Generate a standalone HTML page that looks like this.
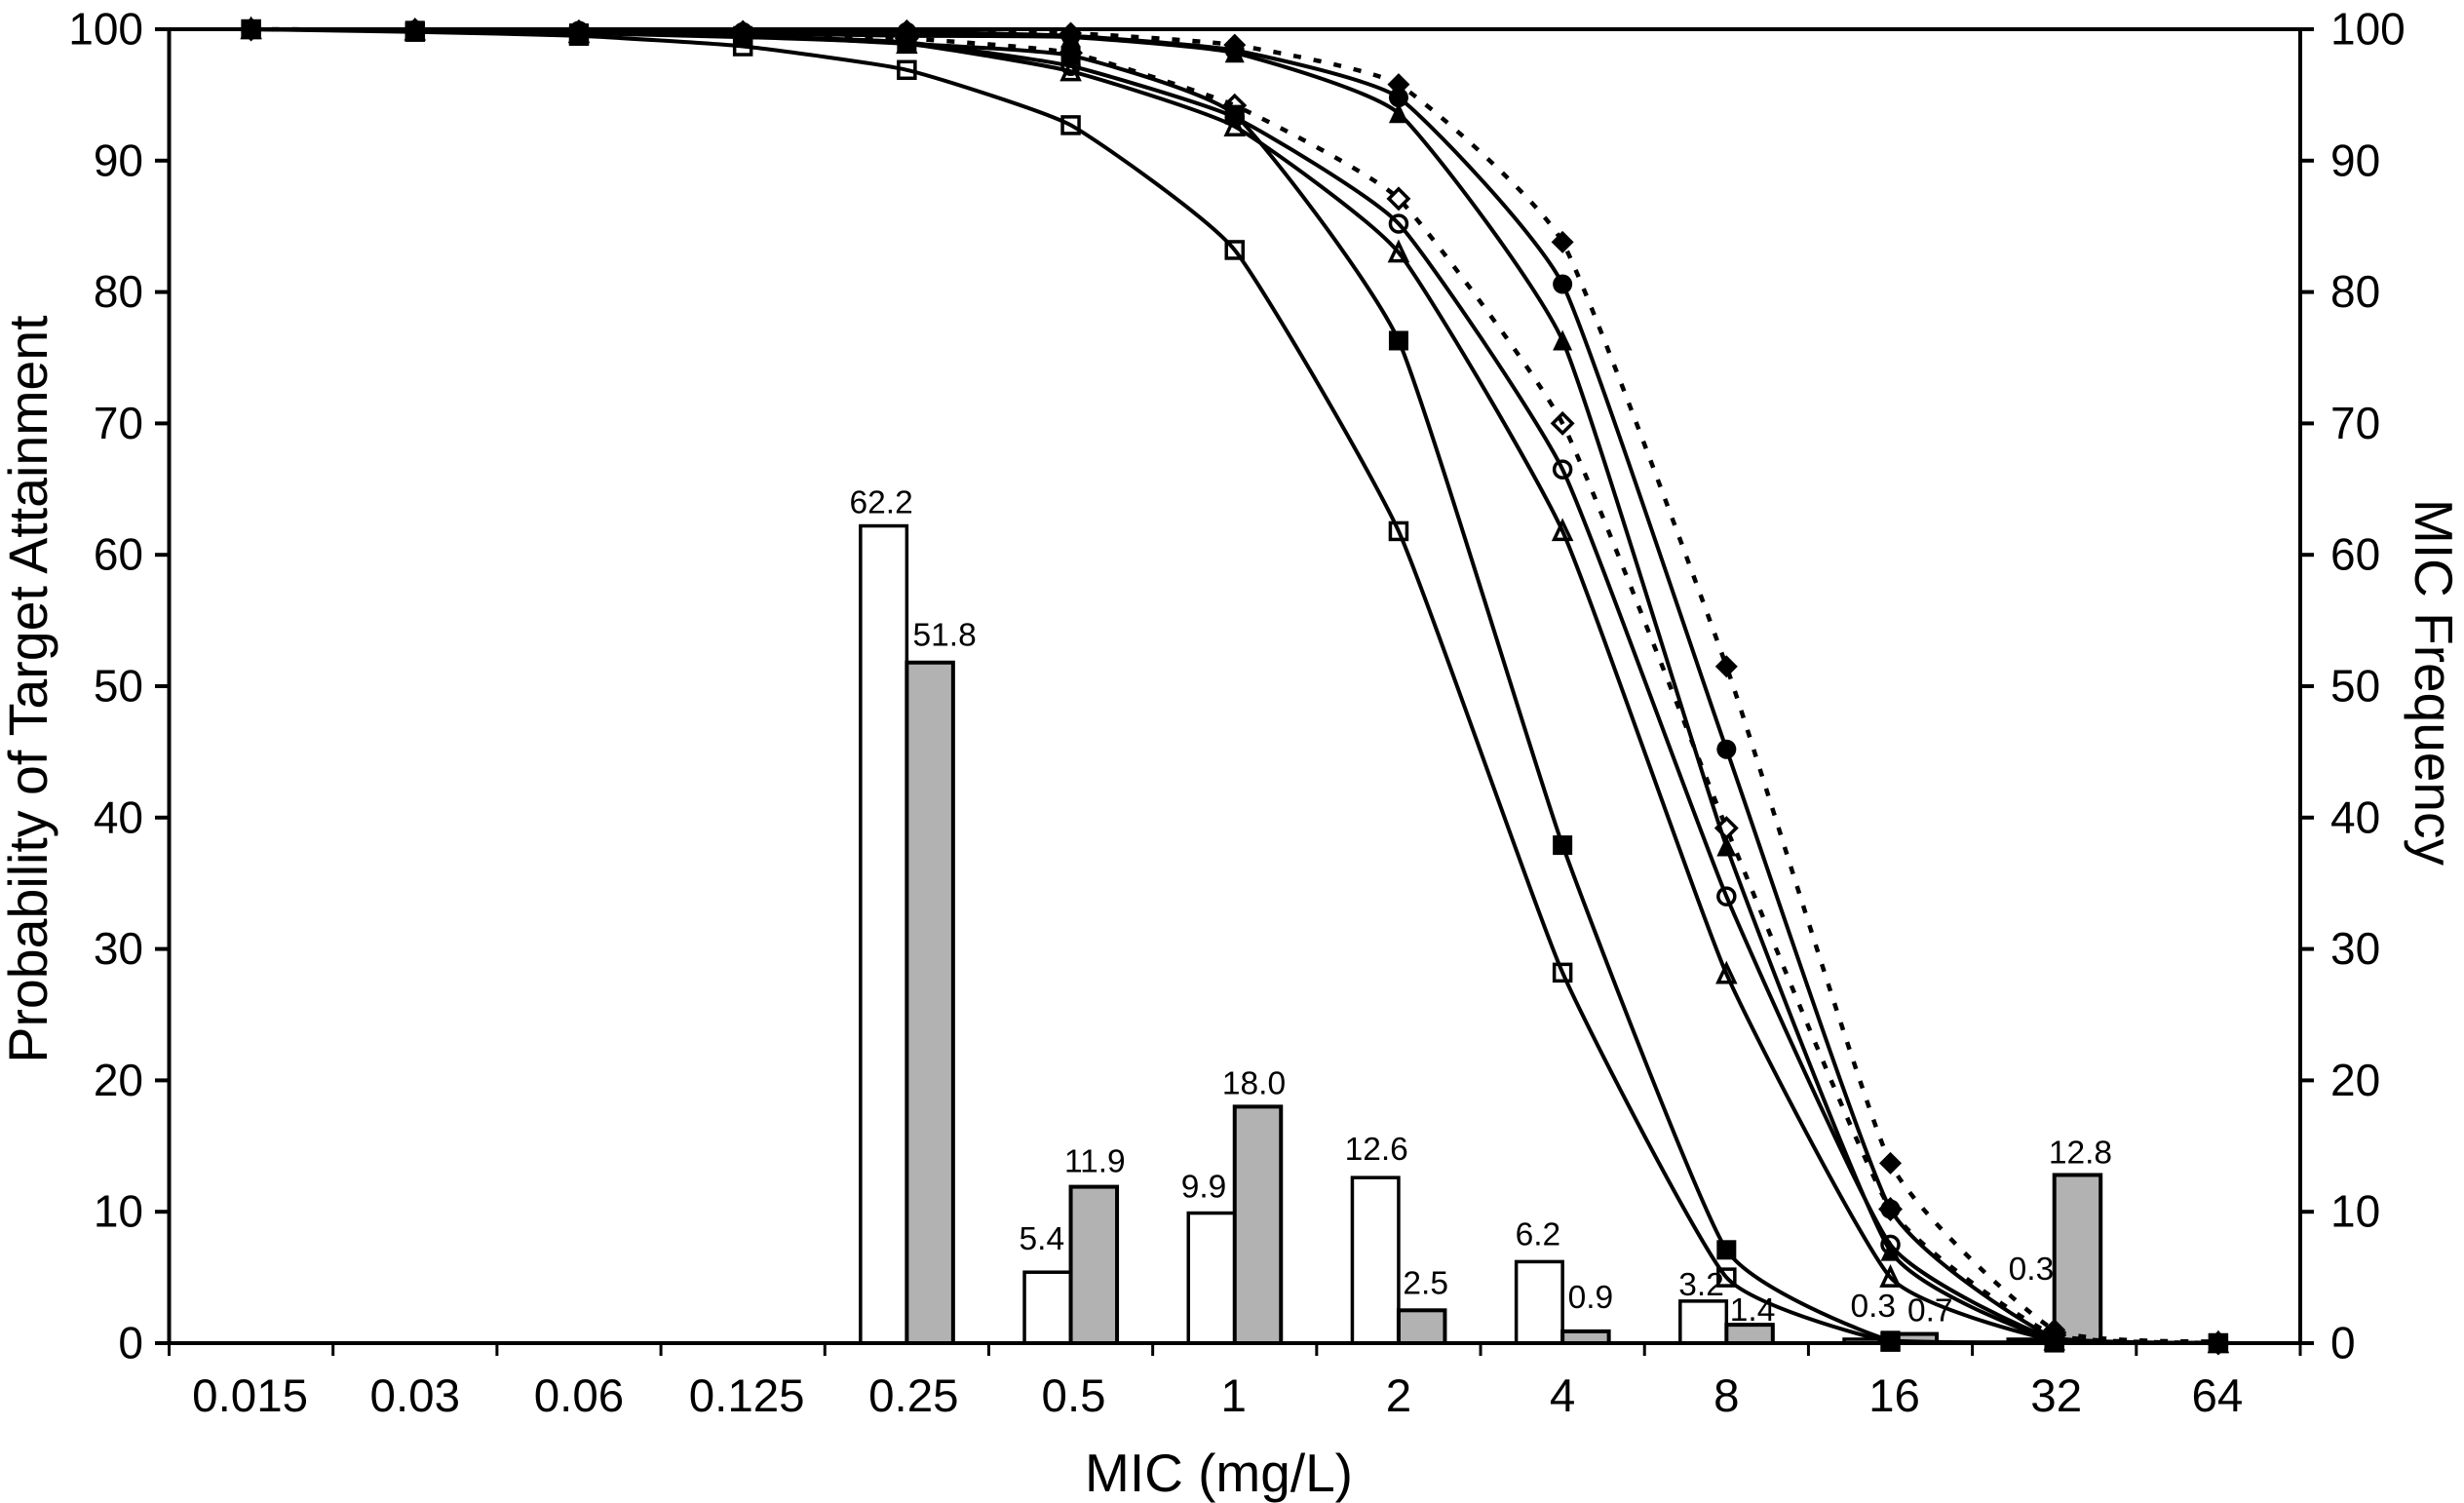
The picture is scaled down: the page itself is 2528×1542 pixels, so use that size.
<!DOCTYPE html>
<html lang="en">
<head>
<meta charset="utf-8">
<title>Probability of Target Attainment by MIC</title>
<style>
  html, body { margin: 0; padding: 0; background: #fff; }
  svg { display: block; }
  text { font-family: "Liberation Sans", Arial, sans-serif; fill: #000; }
</style>
</head>
<body>
<svg id="chart" xmlns="http://www.w3.org/2000/svg" width="2528" height="1542" viewBox="0 0 2528 1542">
  <rect x="0" y="0" width="2528" height="1542" fill="#fff"/>
  <text x="1250.5" y="1530" font-size="55" text-anchor="middle">MIC (mg/L)</text>
  <text transform="translate(48 707) rotate(-90)" font-size="55.5" text-anchor="middle">Probability of Target Attainment</text>
  <text transform="translate(2478 700) rotate(90)" font-size="55" text-anchor="middle">MIC Frequency</text>
</svg>
<script>
// ---- chart data ----
const categories = ["0.015", "0.03", "0.06", "0.125", "0.25", "0.5", "1", "2", "4", "8", "16", "32", "64"];
const yTickValues = [0, 10, 20, 30, 40, 50, 60, 70, 80, 90, 100];

const whiteBarValues = [null, null, null, null, 62.2, 5.4, 9.9, 12.6, 6.2, 3.2, 0.3, 0.3, null];
const grayBarValues  = [null, null, null, null, 51.8, 11.9, 18.0, 2.5, 0.9, 1.4, 0.7, 12.8, null];

const hollowDiamondValues  = [100, 99.95, 99.8, 99.7, 99.3, 98.2, 94.2, 87.1, 70.0, 39.2, 10.2, 0.6, 0];
const filledDiamondValues  = [100, 99.95, 99.9, 99.85, 99.9, 99.7, 98.8, 95.8, 83.8, 51.5, 13.7, 1.0, 0.1];
const hollowTriangleValues = [100, 99.9, 99.7, 99.4, 98.9, 96.8, 92.6, 83.0, 61.8, 28.1, 5.0, 0.2, 0];
const filledTriangleValues = [100, 99.95, 99.8, 99.7, 99.5, 99.4, 98.2, 93.6, 76.3, 37.8, 7.0, 0.2, 0];
const hollowCircleValues   = [100, 99.9, 99.75, 99.5, 99.0, 97.2, 93.3, 85.2, 66.5, 34.0, 7.5, 0.3, 0];
const filledCircleValues   = [100, 99.95, 99.9, 99.8, 99.8, 99.5, 98.4, 94.8, 80.6, 45.2, 10.2, 0.4, 0];
const hollowSquareValues   = [100, 99.8, 99.5, 98.7, 96.9, 92.7, 83.2, 61.8, 28.2, 5.0, 0.1, 0.05, 0];
const filledSquareValues   = [100, 99.9, 99.7, 99.5, 98.9, 98.0, 93.5, 76.3, 37.9, 7.1, 0.2, 0.05, 0];

// ---- layout and styling (not data) ----
const plotLeft = 173.5, plotRight = 2360, plotTop = 30, plotBottom = 1378;
const barWidth = 47.5;
const curveTension = 1 / 13;
const xLabelNudge      = [-1, 0, 0, 4, 7, 3, -1, 0, 0, 0, 4, 2, -1];
const whiteLabelNudgeX = [0, 0, 0, 0, -2.5, -6, -8, 1, -1.5, -2, 6, 0, 0];
const whiteLabelGapY   = [0, 0, 0, 0, 13, 23, 16, 18, 17, 6, 23, 61, 0];
const grayLabelNudgeX  = [0, 0, 0, 0, 15, 1, -4, 4, 5, 3, 17, 3, 0];
const grayLabelGapY    = [0, 0, 0, 0, 17, 15, 13, 17, 24, 4, 13, 12, 0];

const svg = document.getElementById('chart');
const NS = 'http://www.w3.org/2000/svg';

function xBand(i) { return plotLeft + (plotRight - plotLeft) * i / categories.length; }
function xCenter(i) { return xBand(i + 0.5); }
function yScale(v) { return plotBottom - (plotBottom - plotTop) * v / 100; }
function clampY(y) { return Math.max(plotTop, Math.min(plotBottom, y)); }

function make(tag, attrs, parent) {
  const node = document.createElementNS(NS, tag);
  for (const k in attrs) node.setAttribute(k, attrs[k]);
  (parent || svg).appendChild(node);
  return node;
}

function smoothPath(values) {
  const pts = values.map((v, i) => [xCenter(i), yScale(v)]);
  let d = 'M' + pts[0][0].toFixed(2) + ' ' + pts[0][1].toFixed(2);
  for (let i = 0; i < pts.length - 1; i++) {
    const p0 = pts[Math.max(i - 1, 0)], p1 = pts[i], p2 = pts[i + 1], p3 = pts[Math.min(i + 2, pts.length - 1)];
    const c1x = p1[0] + (p2[0] - p0[0]) * curveTension, c1y = clampY(p1[1] + (p2[1] - p0[1]) * curveTension);
    const c2x = p2[0] - (p3[0] - p1[0]) * curveTension, c2y = clampY(p2[1] - (p3[1] - p1[1]) * curveTension);
    d += ' C' + c1x.toFixed(2) + ' ' + c1y.toFixed(2) + ' ' + c2x.toFixed(2) + ' ' + c2y.toFixed(2) + ' ' + p2[0].toFixed(2) + ' ' + p2[1].toFixed(2);
  }
  return d;
}

// ---- bars with value labels (labels sit underneath later bars, as in the source) ----
function drawBars(values, side, fill, strokeWidth, nudgeX, gapY, seriesName) {
  values.forEach((v, i) => {
    if (v === null) return;
    const xLeft = side === 'left' ? xCenter(i) - barWidth : xCenter(i);
    const label = make('text', { x: xLeft + barWidth / 2 + nudgeX[i], y: yScale(v) - gapY[i], 'font-size': 33.5, 'text-anchor': 'middle' });
    label.textContent = v.toFixed(1);
    
    
    const bar = make('rect', { x: xLeft, y: yScale(v), width: barWidth, height: plotBottom - yScale(v), fill: fill, stroke: '#000', 'stroke-width': strokeWidth });
    
    
  });
}
drawBars(whiteBarValues, 'left', '#fff', 3.5, whiteLabelNudgeX, whiteLabelGapY, 'white');
drawBars(grayBarValues, 'right', '#b2b2b2', 4, grayLabelNudgeX, grayLabelGapY, 'gray');

// ---- axes ----
function axisLine(x1, y1, x2, y2, width, name) {
  const line = make('line', { x1: x1, y1: y1, x2: x2, y2: y2, stroke: '#000', 'stroke-width': width });
  
  
}
axisLine(159, plotTop, 2374, plotTop, 4, 'top-axis-line');
axisLine(159, plotBottom, 2374, plotBottom, 4, 'x-axis-line');
axisLine(plotLeft, plotTop, plotLeft, plotBottom, 4, 'left-y-axis-line');
axisLine(plotRight, plotTop, plotRight, plotBottom, 4, 'right-y-axis-line');

yTickValues.forEach(v => {
  const y = yScale(v);
  axisLine(159, y, plotLeft, y, 4, 'left-y-tick-' + v);
  axisLine(plotRight, y, 2374, y, 4, 'right-y-tick-' + v);
  const left = make('text', { x: 147, y: y + 15.5, 'font-size': 46, 'text-anchor': 'end' });
  left.textContent = v;
  
  
  const right = make('text', { x: 2391, y: y + 15.5, 'font-size': 46 });
  right.textContent = v;
  
  
});

for (let i = 0; i <= categories.length; i++) {
  axisLine(xBand(i), plotBottom, xBand(i), 1391, 3, 'x-tick-' + i);
}
categories.forEach((c, i) => {
  const t = make('text', { x: xCenter(i) + xLabelNudge[i], y: 1448, 'font-size': 47.5, 'text-anchor': 'middle' });
  t.textContent = c;
  
  
});

// ---- markers ----
function drawMarker(kind, filled, cx, cy, name) {
  let r = filled ? 10 : 8.5;
  if (kind === 'diamond') r += 1.5;
  const style = filled
    ? { fill: '#000', stroke: 'none' }
    : { fill: 'none', stroke: '#000', 'stroke-width': 3.5 };
  let m;
  if (kind === 'square') {
    m = make('rect', Object.assign({ x: cx - r, y: cy - r, width: 2 * r, height: 2 * r }, style));
  } else if (kind === 'circle') {
    m = make('circle', Object.assign({ cx: cx, cy: cy, r: r }, style));
  } else if (kind === 'triangle') {
    m = make('polygon', Object.assign({ points: cx + ',' + (cy - r - 1) + ' ' + (cx + r) + ',' + (cy + r) + ' ' + (cx - r) + ',' + (cy + r) }, style));
  } else {
    m = make('polygon', Object.assign({ points: cx + ',' + (cy - r) + ' ' + (cx + r) + ',' + cy + ' ' + cx + ',' + (cy + r) + ' ' + (cx - r) + ',' + cy }, style));
  }
  
  
}

function drawSeries(values, kind, filled, dashed, seriesName) {
  const path = make('path', { d: smoothPath(values), fill: 'none', stroke: '#000', 'stroke-width': dashed ? 4.5 : 4, 'stroke-dasharray': dashed ? '8 13' : 'none' });
  
  
  values.forEach((v, i) => drawMarker(kind, filled, xCenter(i), yScale(v), seriesName + '-point-' + categories[i]));
}

drawSeries(hollowDiamondValues, 'diamond', false, true, 'hollow-diamond');
drawSeries(filledTriangleValues, 'triangle', true, false, 'filled-triangle');
drawSeries(hollowTriangleValues, 'triangle', false, false, 'hollow-triangle');
drawSeries(hollowCircleValues, 'circle', false, false, 'hollow-circle');
drawSeries(filledCircleValues, 'circle', true, false, 'filled-circle');
drawSeries(filledDiamondValues, 'diamond', true, true, 'filled-diamond');
drawSeries(hollowSquareValues, 'square', false, false, 'hollow-square');
drawSeries(filledSquareValues, 'square', true, false, 'filled-square');
</script>
</body>
</html>
